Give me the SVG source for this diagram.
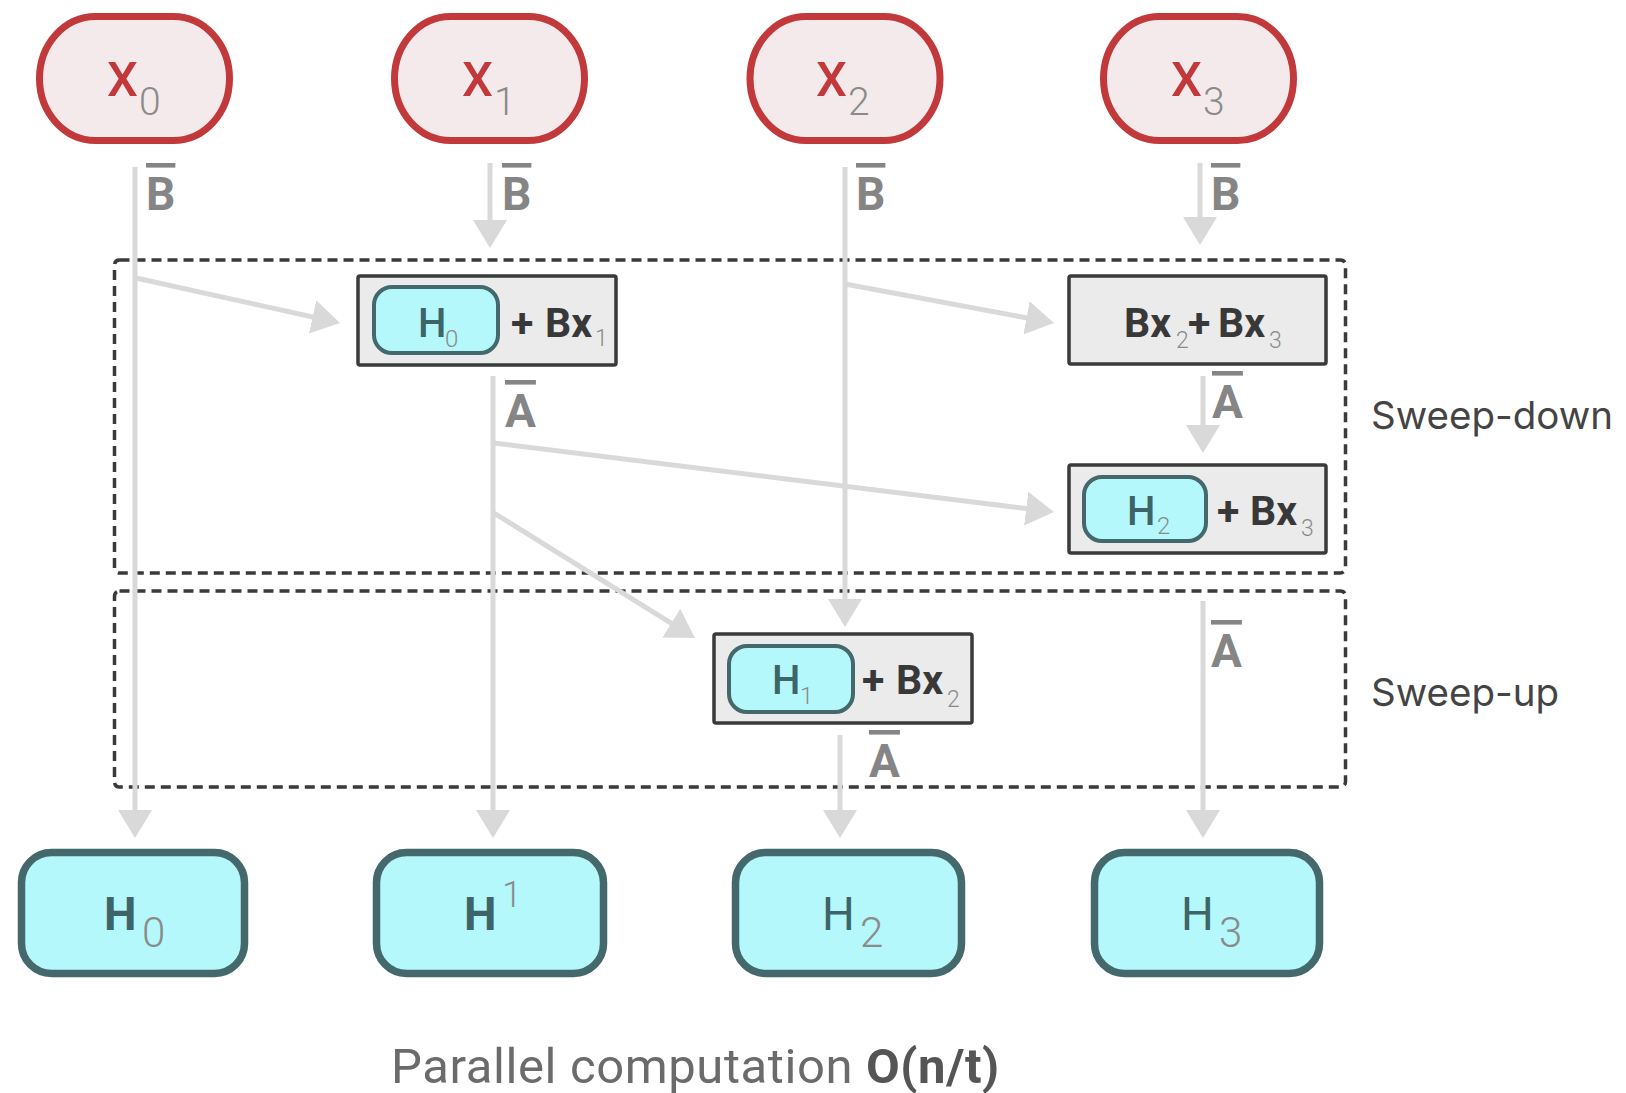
<svg xmlns="http://www.w3.org/2000/svg" width="1626" height="1093" viewBox="0 0 1626 1093">
<style>
.xpill{fill:#f4eaeb;stroke:#c2393b;stroke-width:7}
.hnode{fill:#b4f8fb;stroke:#44686b;stroke-width:7.5}
.hin{fill:#b4f8fb;stroke:#44686b;stroke-width:4}
.gbox{fill:#ebebeb;stroke:#3a3a3a;stroke-width:3.5}
.dash{fill:none;stroke:#3a3a3a;stroke-width:3.5;stroke-dasharray:10 6}
.conn{fill:none;stroke:#d9d9d9;stroke-width:5;marker-end:url(#ah)}
.xl{font-family:Roboto,"Liberation Sans",sans-serif;font-size:49px;font-weight:500;fill:#c2393b}
.xs{font-family:Roboto,"Liberation Sans",sans-serif;font-size:39px;font-weight:300;fill:#8a8a8a}
.hb{font-family:Roboto,"Liberation Sans",sans-serif;font-size:46px;font-weight:700;fill:#3d6467}
.hr{font-family:Roboto,"Liberation Sans",sans-serif;font-size:46px;font-weight:400;fill:#3d6467}
.hs{font-family:Roboto,"Liberation Sans",sans-serif;font-size:42px;font-weight:300;fill:#8a8a8a}
.hi{font-family:Roboto,"Liberation Sans",sans-serif;font-size:40px;font-weight:500;fill:#3d6467}
.his{font-family:Roboto,"Liberation Sans",sans-serif;font-size:24px;font-weight:300;fill:#8a8a8a}
.bx{font-family:Roboto,"Liberation Sans",sans-serif;font-size:41px;font-weight:700;fill:#383838}
.bxs{font-family:Roboto,"Liberation Sans",sans-serif;font-size:23px;font-weight:300;fill:#8a8a8a}
.ov{font-family:Roboto,"Liberation Sans",sans-serif;font-size:46px;font-weight:700;fill:#858585;text-decoration:overline}
.sw{font-family:Inter,"Liberation Sans",sans-serif;font-size:38.5px;fill:#444}
.cap{font-family:Roboto,"Liberation Sans",sans-serif;font-size:49px;letter-spacing:0.6px;fill:#6b6b6b}
</style>
<defs>
<marker id="ah" markerUnits="userSpaceOnUse" markerWidth="28" markerHeight="34" refX="22" refY="17" orient="auto">
<path d="M0,0 L28,17 L0,34 Z" fill="#d9d9d9"/>
</marker>
</defs>
<rect width="1626" height="1093" fill="#ffffff"/>

<g id="sweep-down">
<rect class="dash" x="114.5" y="260" width="1231" height="313" rx="5"/>
<text class="sw" x="1371" y="429">Sweep-down</text>
</g>
<g id="sweep-up">
<rect class="dash" x="114.5" y="591" width="1231" height="196" rx="5"/>
<text class="sw" x="1371" y="706">Sweep-up</text>
</g>

<g id="connectors">
<line class="conn" x1="135" y1="167" x2="135" y2="832"/>
<line class="conn" x1="490" y1="163" x2="490" y2="242"/>
<line class="conn" x1="845" y1="167" x2="845" y2="621"/>
<line class="conn" x1="1200" y1="163" x2="1200" y2="239"/>
<line class="conn" x1="136" y1="278" x2="334.1" y2="321.7"/>
<line class="conn" x1="845" y1="284" x2="1048.1" y2="321.9"/>
<line class="conn" x1="493" y1="376" x2="493" y2="832"/>
<line class="conn" x1="494" y1="443" x2="1048" y2="511.3"/>
<line class="conn" x1="494" y1="513" x2="689.9" y2="634.8"/>
<line class="conn" x1="1203" y1="376" x2="1203" y2="447"/>
<line class="conn" x1="1203" y1="601" x2="1203" y2="832"/>
<line class="conn" x1="840" y1="735" x2="840" y2="832"/>
<text class="ov" x="146" y="210">B</text>
<text class="ov" x="502" y="210">B</text>
<text class="ov" x="856" y="210">B</text>
<text class="ov" x="1211" y="210">B</text>
<text class="ov" x="505" y="427">A</text>
<text class="ov" x="1212" y="418">A</text>
<text class="ov" x="1211" y="667">A</text>
<text class="ov" x="869" y="777">A</text>
</g>

<g id="x0">
<rect class="xpill" x="39.5" y="16.5" width="190" height="124" rx="56" ry="62"/>
<text class="xl" x="107" y="96">X<tspan class="xs" x="139" y="115">0</tspan></text>
</g>
<g id="x1">
<rect class="xpill" x="394.5" y="16.5" width="190" height="124" rx="56" ry="62"/>
<text class="xl" x="462" y="96">X<tspan class="xs" x="494" y="115">1</tspan></text>
</g>
<g id="x2">
<rect class="xpill" x="750" y="16.5" width="190" height="124" rx="56" ry="62"/>
<text class="xl" x="816" y="96">X<tspan class="xs" x="848" y="115">2</tspan></text>
</g>
<g id="x3">
<rect class="xpill" x="1103.5" y="16.5" width="190" height="124" rx="56" ry="62"/>
<text class="xl" x="1171" y="96">X<tspan class="xs" x="1203" y="115">3</tspan></text>
</g>

<g id="h0-bx1">
<rect class="gbox" x="358" y="276" width="258" height="89" rx="2"/>
<rect class="hin" x="374" y="287" width="124" height="66" rx="18"/>
<text class="hi" x="418" y="337">H<tspan class="his" x="445" y="347">0</tspan></text>
<text class="bx" x="511" y="337">+</text>
<text class="bx" x="545" y="337">Bx</text>
<text class="bxs" x="595" y="346">1</text>
</g>
<g id="bx2-bx3">
<rect class="gbox" x="1069" y="276" width="257" height="88" rx="2"/>
<text class="bx" x="1124" y="337">Bx</text>
<text class="bxs" x="1176" y="348">2</text>
<text class="bx" x="1188" y="337">+</text>
<text class="bx" x="1218" y="337">Bx</text>
<text class="bxs" x="1269" y="348">3</text>
</g>
<g id="h2-bx3">
<rect class="gbox" x="1069" y="465" width="257" height="88" rx="2"/>
<rect class="hin" x="1084" y="477" width="122" height="64" rx="18"/>
<text class="hi" x="1127" y="525">H<tspan class="his" x="1157" y="534">2</tspan></text>
<text class="bx" x="1217" y="525">+</text>
<text class="bx" x="1250" y="525">Bx</text>
<text class="bxs" x="1301" y="536">3</text>
</g>
<g id="h1-bx2">
<rect class="gbox" x="714" y="634" width="258" height="89" rx="2"/>
<rect class="hin" x="729" y="646" width="124" height="66" rx="18"/>
<text class="hi" x="772" y="694">H<tspan class="his" x="800" y="704">1</tspan></text>
<text class="bx" x="862" y="694">+</text>
<text class="bx" x="896" y="694">Bx</text>
<text class="bxs" x="947" y="707">2</text>
</g>

<g id="h0">
<rect class="hnode" x="21.5" y="852.5" width="223" height="121" rx="30"/>
<text class="hb" x="104" y="930">H<tspan class="hs" x="142" y="947">0</tspan></text>
</g>
<g id="h1">
<rect class="hnode" x="376.5" y="852.5" width="227" height="121" rx="30"/>
<text class="hb" x="464" y="930">H<tspan class="hs" x="502" y="907" style="font-size:36px">1</tspan></text>
</g>
<g id="h2">
<rect class="hnode" x="735.5" y="852.5" width="226" height="121" rx="30"/>
<text class="hr" x="822" y="930">H<tspan class="hs" x="860" y="947">2</tspan></text>
</g>
<g id="h3">
<rect class="hnode" x="1094.5" y="852.5" width="225" height="121" rx="30"/>
<text class="hr" x="1181" y="930">H<tspan class="hs" x="1219" y="947">3</tspan></text>
</g>

<g id="caption">
<text class="cap" x="391" y="1083">Parallel computation <tspan font-weight="700" fill="#555">O(n/t)</tspan></text>
</g>
</svg>
